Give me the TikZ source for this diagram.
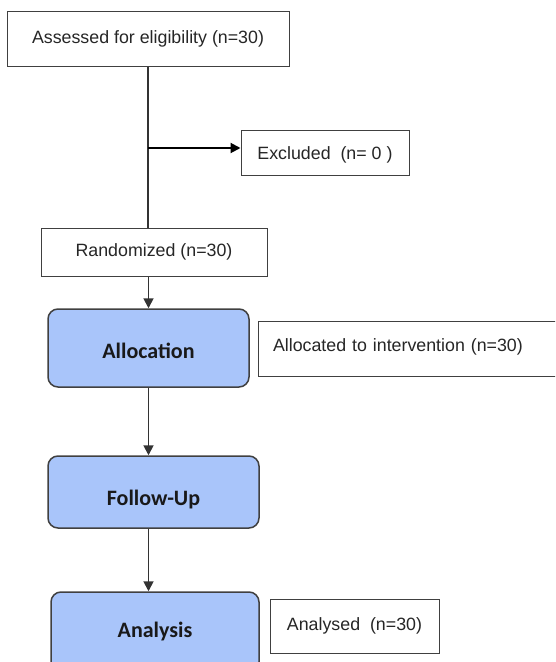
\documentclass[tikz,border=0pt]{standalone}
\usepackage{fontspec}
\setmainfont{Liberation Sans}
\newfontfamily\phasefont{Carlito}
\usetikzlibrary{arrows.meta}

\begin{document}
\begin{tikzpicture}[x=1pt,y=-1pt,
  plainbox/.style={draw=black!75, line width=1pt, fill=white, inner sep=0pt,
    font=\fontsize{17.8}{21}\selectfont, text=black!85},
  phasebox/.style={draw=black!75, line width=1.5pt, fill=phaseblue, rounded corners=10pt,
    inner sep=0pt, font=\phasefont\bfseries\fontsize{22}{26}\selectfont, text=black!90},
  arr/.style={draw=black!80, line width=1.8pt, -{Triangle[length=10pt,width=10pt]}}]
\definecolor{phaseblue}{HTML}{A9C5FA}
\useasboundingbox (0,0) rectangle (555,662);
\clip (0,0) rectangle (555,662);
% screening
\node[plainbox, minimum width=282pt, minimum height=55pt] (assess) at (148,38.5) {Assessed for eligibility (n=30)};
\node[plainbox, minimum width=168pt, minimum height=45pt, text height=18pt, text depth=3.8pt] (excl) at (325,152.5) {Excluded~ (n= 0 )};
\node[plainbox, minimum width=226pt, minimum height=48pt] (rand) at (154,252) {Randomized (n=30)};
% phases
\node[phasebox, minimum width=201pt, minimum height=78pt, text height=20.5pt, text depth=0pt] (alloc) at (148.5,348) {Allocation};
\node[plainbox, text width=270pt, inner xsep=15pt, align=left, minimum height=55pt, text height=13pt, text depth=7.8pt] (allocd) at (408,348.5) {Allocated to intervention (n=30)};
\node[phasebox, minimum width=211pt, minimum height=72pt, text height=30.5pt, text depth=4.5pt] (follow) at (153.5,492) {Follow-Up};
\node[phasebox, minimum width=208pt, minimum height=80pt] (anal) at (155,632) {Analysis};
\node[plainbox, minimum width=169pt, minimum height=54pt] (analysed) at (354.5,626) {Analysed~ (n=30)};
\coordinate (exclin) at ([yshift=4.5pt]excl.west);
% connectors
\draw[draw=black!80, line width=1.8pt] (assess.south) -- (assess.south |- rand.north);
\draw[arr, draw=black, line width=2pt] (assess.south |- exclin) -- (exclin);
\draw[arr] (alloc.north |- rand.south) -- (alloc.north);
\draw[arr] (alloc.south) -- (alloc.south |- follow.north);
\draw[arr] (alloc.south |- follow.south) -- (alloc.south |- anal.north);
\end{tikzpicture}
\end{document}
